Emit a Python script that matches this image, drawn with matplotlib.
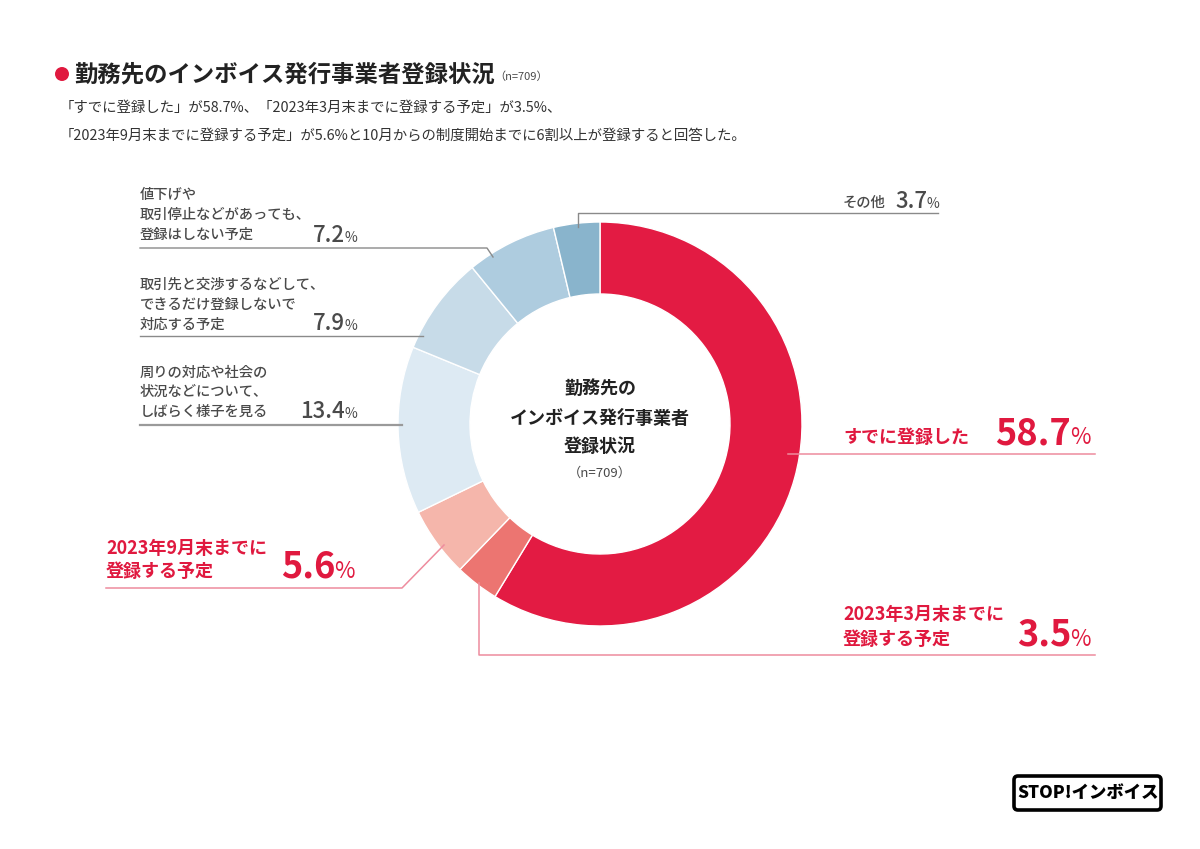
import matplotlib
matplotlib.use("Agg")
import matplotlib.pyplot as plt
from matplotlib.patches import Circle, FancyBboxPatch

plt.rcParams['font.family'] = ['Noto Sans CJK JP', 'DejaVu Sans']

# ---------------- data ----------------
categories = ["すでに登録した",
              "2023年3月末までに\n登録する予定",
              "2023年9月末までに\n登録する予定",
              "周りの対応や社会の\n状況などについて、\nしばらく様子を見る",
              "取引先と交渉するなどして、\nできるだけ登録しないで\n対応する予定",
              "値下げや\n取引停止などがあっても、\n登録はしない予定",
              "その他"]
values = [58.7, 3.5, 5.6, 13.4, 7.9, 7.2, 3.7]
colors = ["#E31B43", "#EC7571", "#F5B6AB", "#DDEAF3", "#C7DBE8", "#AECCDF", "#89B4CC"]
title = "勤務先のインボイス発行事業者登録状況"
n_label = "（n=709）"
subtitle1 = "「すでに登録した」が58.7%、「2023年3月末までに登録する予定」が3.5%、"
subtitle2 = "「2023年9月末までに登録する予定」が5.6%と10月からの制度開始までに6割以上が登録すると回答した。"
center_lines = ["勤務先の", "インボイス発行事業者", "登録状況"]

W, H = 1200, 849
RED = "#E0193F"
GRAY = "#4A4A4A"
LGRAY = "#8A8A8A"
PINK = "#EE8C9E"

fig = plt.figure(figsize=(12, 8.49), dpi=100)
ax = fig.add_axes([0, 0, 1, 1])


def Y(py):
    return H - py


ax.pie(values, colors=colors, startangle=90, counterclock=False,
       radius=202, center=(600, Y(424)),
       wedgeprops=dict(width=72, edgecolor="white", linewidth=1.0))
ax.set_xlim(0, W)
ax.set_ylim(0, H)
ax.set_aspect("equal")
ax.axis("off")

# ---------------- title ----------------
ax.add_patch(Circle((62, Y(74)), 7, color=RED, lw=0))
ax.text(74, Y(74), title, fontsize=16.8, fontweight="bold", color="#222222",
        ha="left", va="center")
ax.text(494, Y(77), n_label, fontsize=8, color=GRAY, ha="left", va="center")
ax.text(60, Y(108), subtitle1, fontsize=10.4, color="#333333", ha="left", va="center")
ax.text(60, Y(136), subtitle2, fontsize=10.4, color="#333333", ha="left", va="center")

# ---------------- center ----------------
for yy, s in zip([388, 418, 446], center_lines):
    ax.text(600, Y(yy), s, fontsize=13, fontweight="bold", color="#222222",
            ha="center", va="center")
ax.text(600, Y(473), n_label, fontsize=9.5, color=GRAY, ha="center", va="center")


def pct(x_end, y_base, val, big, small, color, weight):
    ax.text(x_end, Y(y_base), f"{val}", fontsize=big, color=color,
            ha="right", va="baseline", fontweight=weight)
    ax.text(x_end - 0.5, Y(y_base), "%", fontsize=small, color=color,
            ha="left", va="baseline")


def multiline(x, ys, text, size, color, weight="normal"):
    for yy, s in zip(ys, text.split("\n")):
        ax.text(x, Y(yy), s, fontsize=size, color=color, ha="left", va="center",
                fontweight=weight)


# ---------------- gray labels (left / top) ----------------
multiline(140, [195, 215, 235], categories[5], 10.3, GRAY, "medium")
pct(345, 242, values[5], 16, 10, GRAY, "medium")
ax.plot([140, 487, 493], [Y(248), Y(248), Y(257)], color=LGRAY, lw=1)

multiline(140, [285, 305, 325], categories[4], 10.3, GRAY, "medium")
pct(345, 330, values[4], 16, 10, GRAY, "medium")
ax.plot([140, 423], [Y(336), Y(336)], color=LGRAY, lw=1)

multiline(140, [373, 392, 412], categories[3], 10.3, GRAY, "medium")
pct(345, 418, values[3], 16, 10, GRAY, "medium")
ax.plot([140, 402], [Y(425), Y(425)], color="#9A9A9A", lw=1.6)

ax.text(843, Y(203), categories[6], fontsize=10.3, color=GRAY, ha="left", va="center",
        fontweight="medium")
pct(927, 208, values[6], 16, 10, GRAY, "medium")
ax.plot([578, 578, 938], [Y(227), Y(213), Y(213)], color=LGRAY, lw=1)

# ---------------- red labels ----------------
ax.text(843, Y(437), categories[0], fontsize=13, color=RED, ha="left", va="center",
        fontweight="bold")
pct(1071, 444, values[0], 26, 16, RED, "bold")
ax.plot([788, 1095], [Y(454), Y(454)], color=PINK, lw=1.1)

multiline(843, [615, 639], categories[1], 13, RED, "bold")
pct(1071, 646, values[1], 26, 16, RED, "bold")
ax.plot([479, 479, 1095], [Y(583), Y(655), Y(655)], color=PINK, lw=1.1)

multiline(106, [548, 571], categories[2], 13, RED, "bold")
pct(335, 578, values[2], 26, 16, RED, "bold")
ax.plot([106, 402, 444], [Y(588), Y(588), Y(545)], color=PINK, lw=1.1)

# ---------------- logo ----------------
ax.add_patch(FancyBboxPatch((1014, Y(810)), 147, 34,
                            boxstyle="round,pad=0,rounding_size=4",
                            fc="white", ec="black", lw=2.6))
ax.text(1088, Y(793), "STOP!インボイス", fontsize=12.5, fontweight="black",
        color="black", ha="center", va="center")

fig.savefig("out.png", dpi=100, facecolor="white")
